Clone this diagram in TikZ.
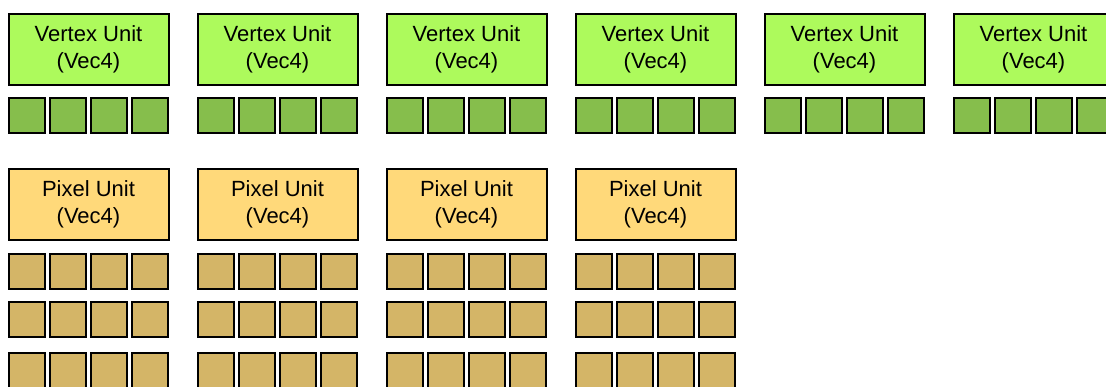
\documentclass[tikz,border=0pt]{standalone}
\usepackage{fontspec}
\setmainfont{Liberation Sans}
\usepackage{tikz}
\definecolor{vunitfill}{RGB}{173,250,92}
\definecolor{vlanefill}{RGB}{134,190,76}
\definecolor{punitfill}{RGB}{255,217,122}
\definecolor{planefill}{RGB}{212,181,103}
\tikzstyle{unit}=[shape=rectangle,draw=black,line width=2pt,minimum width=160pt,minimum height=71pt,inner sep=0pt,align=center,font=\fontsize{22}{27.5}\selectfont]
\tikzstyle{vertexunit}=[unit,fill=vunitfill]
\tikzstyle{pixelunit}=[unit,fill=punitfill]
\tikzstyle{lane}=[shape=rectangle,draw=black,line width=2pt,minimum width=36pt,minimum height=35pt,inner sep=0pt]
\tikzstyle{vertexlane}=[lane,fill=vlanefill]
\tikzstyle{pixellane}=[lane,fill=planefill]

\begin{document}
\begin{tikzpicture}[x=1pt,y=-1pt]
		\useasboundingbox (0,0) rectangle (1106,386);

		% vertex units
		\node[vertexunit] (vu1) at (88.5,49.5) {Vertex Unit\\(Vec4)};
		\node[vertexunit] (vu2) at (277.5,49.5) {Vertex Unit\\(Vec4)};
		\node[vertexunit] (vu3) at (466.5,49.5) {Vertex Unit\\(Vec4)};
		\node[vertexunit] (vu4) at (655.5,49.5) {Vertex Unit\\(Vec4)};
		\node[vertexunit] (vu5) at (844.5,49.5) {Vertex Unit\\(Vec4)};
		\node[vertexunit] (vu6) at (1033.5,49.5) {Vertex Unit\\(Vec4)};

		% vertex lanes, one row of four under each unit
		\foreach \i in {1,...,6}
			\foreach \j in {1,...,4}
				\node[vertexlane] (vl\i\j) at ({189*(\i-1)+26.5+41*(\j-1)},115) {};

		% pixel units
		\node[pixelunit] (pu1) at (88.5,204.5) {Pixel Unit\\(Vec4)};
		\node[pixelunit] (pu2) at (277.5,204.5) {Pixel Unit\\(Vec4)};
		\node[pixelunit] (pu3) at (466.5,204.5) {Pixel Unit\\(Vec4)};
		\node[pixelunit] (pu4) at (655.5,204.5) {Pixel Unit\\(Vec4)};

		% pixel lanes, three rows of four under each unit
		\foreach \i in {1,...,4}
			\foreach \j in {1,...,4}
				\foreach \r/\y in {1/271,2/319,3/370}
					\node[pixellane] (pl\i\j\r) at ({189*(\i-1)+26.5+41*(\j-1)},\y) {};

\end{tikzpicture}
\end{document}
